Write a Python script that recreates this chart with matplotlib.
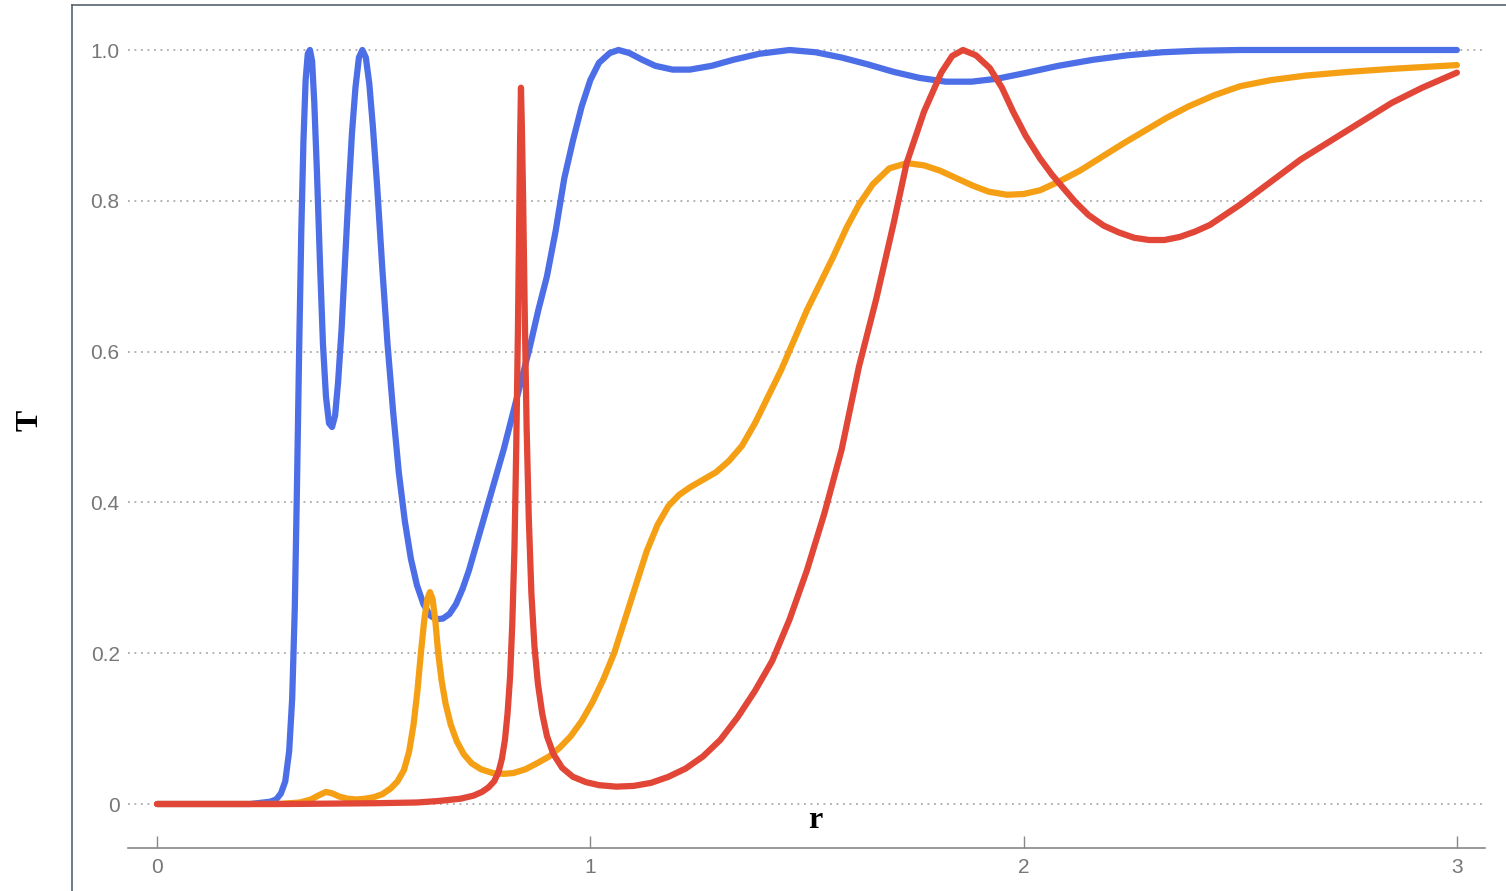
import matplotlib
matplotlib.use('Agg')
import matplotlib.pyplot as plt
from matplotlib.lines import Line2D

# curves (r, T)
blue_r = [0.0, 0.215, 0.261, 0.275, 0.286, 0.296, 0.305, 0.312, 0.318, 0.323, 0.328,
          0.333, 0.338, 0.343, 0.348, 0.353, 0.358, 0.363, 0.369, 0.376, 0.383, 0.390,
          0.397, 0.404, 0.411, 0.418, 0.426, 0.434, 0.442, 0.450, 0.458, 0.466, 0.474,
          0.482, 0.490, 0.498, 0.508, 0.520, 0.532, 0.545, 0.558, 0.572, 0.586, 0.600,
          0.615, 0.630, 0.645, 0.660, 0.675, 0.690, 0.705, 0.720, 0.740, 0.760, 0.780,
          0.800, 0.820, 0.840, 0.860, 0.880, 0.900, 0.920, 0.940, 0.960, 0.980, 1.000,
          1.020, 1.045, 1.065, 1.090, 1.120, 1.150, 1.190, 1.230, 1.280, 1.330, 1.390,
          1.460, 1.520, 1.580, 1.640, 1.700, 1.760, 1.820, 1.880, 1.940, 2.000, 2.080,
          2.160, 2.240, 2.320, 2.400, 2.500, 3.0]
blue_T = [0.0, 0.0, 0.003, 0.006, 0.014, 0.03, 0.07, 0.14, 0.26, 0.42, 0.6,
          0.76, 0.88, 0.96, 0.995, 1.0, 0.985, 0.93, 0.84, 0.72, 0.61, 0.54,
          0.505, 0.50, 0.515, 0.56, 0.63, 0.72, 0.81, 0.89, 0.95, 0.99, 1.0,
          0.99, 0.955, 0.9, 0.82, 0.71, 0.61, 0.52, 0.44, 0.375, 0.325, 0.29,
          0.265, 0.25, 0.245, 0.246, 0.252, 0.265, 0.285, 0.31, 0.35, 0.39, 0.43,
          0.47, 0.515, 0.56, 0.605, 0.655, 0.70, 0.76, 0.83, 0.88, 0.925, 0.96,
          0.983, 0.996, 1.0, 0.996, 0.987, 0.979, 0.974, 0.974, 0.979, 0.987, 0.995,
          1.0, 0.997, 0.99, 0.981, 0.971, 0.963, 0.958, 0.958, 0.962, 0.969, 0.979,
          0.987, 0.993, 0.997, 0.999, 1.0, 1.0]

orange_r = [0.0, 0.280, 0.330, 0.355, 0.375, 0.390, 0.405, 0.420, 0.440, 0.460, 0.480,
            0.500, 0.520, 0.540, 0.555, 0.570, 0.582, 0.592, 0.601, 0.609, 0.617, 0.624,
            0.630, 0.636, 0.642, 0.649, 0.657, 0.666, 0.678, 0.692, 0.708, 0.726, 0.748,
            0.775, 0.800, 0.822, 0.850, 0.877, 0.905, 0.930, 0.955, 0.980, 1.005, 1.030,
            1.055, 1.080, 1.105, 1.130, 1.155, 1.180, 1.205, 1.230, 1.260, 1.290, 1.320,
            1.350, 1.380, 1.410, 1.440, 1.470, 1.500, 1.530, 1.560, 1.592, 1.620, 1.652,
            1.690, 1.731, 1.770, 1.807, 1.845, 1.883, 1.920, 1.962, 2.000, 2.038, 2.080,
            2.130, 2.180, 2.230, 2.280, 2.330, 2.380, 2.440, 2.500, 2.570, 2.650, 2.750,
            2.850, 3.0]
orange_T = [0.0, 0.0, 0.002, 0.006, 0.012, 0.016, 0.014, 0.01, 0.007, 0.006, 0.007,
            0.009, 0.013, 0.021, 0.03, 0.045, 0.07, 0.105, 0.15, 0.2, 0.245, 0.272,
            0.281, 0.272, 0.245, 0.2, 0.163, 0.133, 0.105, 0.083, 0.066, 0.054, 0.046,
            0.041, 0.04, 0.041, 0.046, 0.054, 0.063, 0.075, 0.09, 0.11, 0.135, 0.165,
            0.2, 0.245, 0.29, 0.335, 0.37, 0.395, 0.41, 0.42, 0.43, 0.44, 0.455,
            0.475, 0.505, 0.54, 0.575, 0.615, 0.655, 0.69, 0.725, 0.765, 0.795, 0.822,
            0.843, 0.85, 0.847, 0.84, 0.83, 0.82, 0.812, 0.808, 0.809, 0.814, 0.825,
            0.84, 0.858, 0.876, 0.893, 0.91, 0.925, 0.94, 0.952, 0.96, 0.966, 0.971,
            0.975, 0.98]

red_r = [0.0, 0.300, 0.500, 0.600, 0.650, 0.700, 0.730, 0.750, 0.765, 0.778, 0.788,
         0.796, 0.803, 0.809, 0.815, 0.820, 0.825, 0.829, 0.833, 0.836, 0.838, 0.840,
         0.842, 0.845, 0.849, 0.853, 0.858, 0.864, 0.871, 0.879, 0.889, 0.900, 0.915,
         0.935, 0.960, 0.990, 1.020, 1.060, 1.100, 1.140, 1.180, 1.220, 1.260, 1.300,
         1.340, 1.380, 1.420, 1.460, 1.500, 1.540, 1.580, 1.620, 1.660, 1.700, 1.730,
         1.770, 1.810, 1.835, 1.860, 1.890, 1.922, 1.950, 1.976, 2.005, 2.038, 2.065,
         2.090, 2.120, 2.150, 2.185, 2.220, 2.255, 2.290, 2.325, 2.360, 2.395, 2.430,
         2.500, 2.570, 2.640, 2.710, 2.780, 2.850, 2.920, 3.0]
red_T = [0.0, 0.0, 0.001, 0.002, 0.004, 0.007, 0.011, 0.016, 0.022, 0.03, 0.042,
         0.06, 0.085, 0.12, 0.17, 0.24, 0.34, 0.47, 0.63, 0.78, 0.88, 0.95,
         0.90, 0.80, 0.64, 0.50, 0.38, 0.28, 0.21, 0.16, 0.12, 0.09, 0.066,
         0.048, 0.036, 0.029, 0.025, 0.023, 0.024, 0.028, 0.036, 0.047, 0.063, 0.085,
         0.115, 0.15, 0.19, 0.245, 0.31, 0.385, 0.47, 0.58, 0.67, 0.77, 0.85,
         0.918, 0.97, 0.992, 1.0, 0.993, 0.976, 0.95, 0.918, 0.886, 0.856, 0.835,
         0.818, 0.798, 0.781, 0.767, 0.758, 0.751, 0.748, 0.748, 0.752, 0.759, 0.768,
         0.795, 0.825, 0.855, 0.88, 0.905, 0.93, 0.95, 0.97]

yticks = [0, 0.2, 0.4, 0.6, 0.8, 1.0]
ylabels = ['0', '0.2', '0.4', '0.6', '0.8', '1.0']
xticks = [0, 1, 2, 3]

W, H = 1506, 891
fig = plt.figure(figsize=(W / 100, H / 100), dpi=100)
fig.patch.set_facecolor('white')

# axes box in pixels: left 128, right 1485, top 30, bottom 848
ax = fig.add_axes([128 / W, (H - 848) / H, (1485 - 128) / W, (848 - 30) / H])
ax.set_xlim((128 - 157) / 433.3, (1485 - 157) / 433.3)
ax.set_ylim((804 - 848) / 754, (804 - 30) / 754)

lw = 4.5
ax.plot(blue_r, blue_T, color='#4c6ee6', lw=lw, solid_capstyle='round', solid_joinstyle='round', zorder=3)
ax.plot(orange_r, orange_T, color='#f5a014', lw=lw, solid_capstyle='round', solid_joinstyle='round', zorder=4)
ax.plot(red_r, red_T, color='#e14637', lw=lw, solid_capstyle='round', solid_joinstyle='round', zorder=5)

for s in ['top', 'right', 'left']:
    ax.spines[s].set_visible(False)
ax.spines['bottom'].set_color('#888888')
ax.spines['bottom'].set_linewidth(1.2)

ax.set_yticks(yticks)
ax.set_yticklabels(ylabels)
ax.set_xticks(xticks)
ax.set_xticklabels([str(t) for t in xticks])
ax.tick_params(axis='y', length=0, pad=6, labelsize=15, labelcolor='#777777')
ax.tick_params(axis='x', direction='in', length=9, width=1.0, color='#888888',
               pad=7, labelsize=15, labelcolor='#777777')
for lab in ax.get_xticklabels() + ax.get_yticklabels():
    lab.set_fontfamily('Liberation Sans')

ax.yaxis.grid(True, color='#aaaaaa', linestyle=(0, (1, 2.6)), linewidth=1.3)
ax.set_axisbelow(True)

fig.text(815 / W, 1 - 820 / H, 'r', ha='center', va='center', fontsize=23,
         fontweight='bold', family='Liberation Serif', color='black')
fig.text(30 / W, 1 - 420 / H, 'T', ha='center', va='center', fontsize=23,
         fontweight='bold', family='Liberation Serif', color='black', rotation=90)

# screenshot frame on left and top
fig.add_artist(Line2D([72 / W, 72 / W], [0, 1 - 5 / H], color='#56636e', lw=1.2))
fig.add_artist(Line2D([72 / W, 1], [1 - 5 / H, 1 - 5 / H], color='#56636e', lw=1.2))

fig.savefig('out.png', dpi=100)
